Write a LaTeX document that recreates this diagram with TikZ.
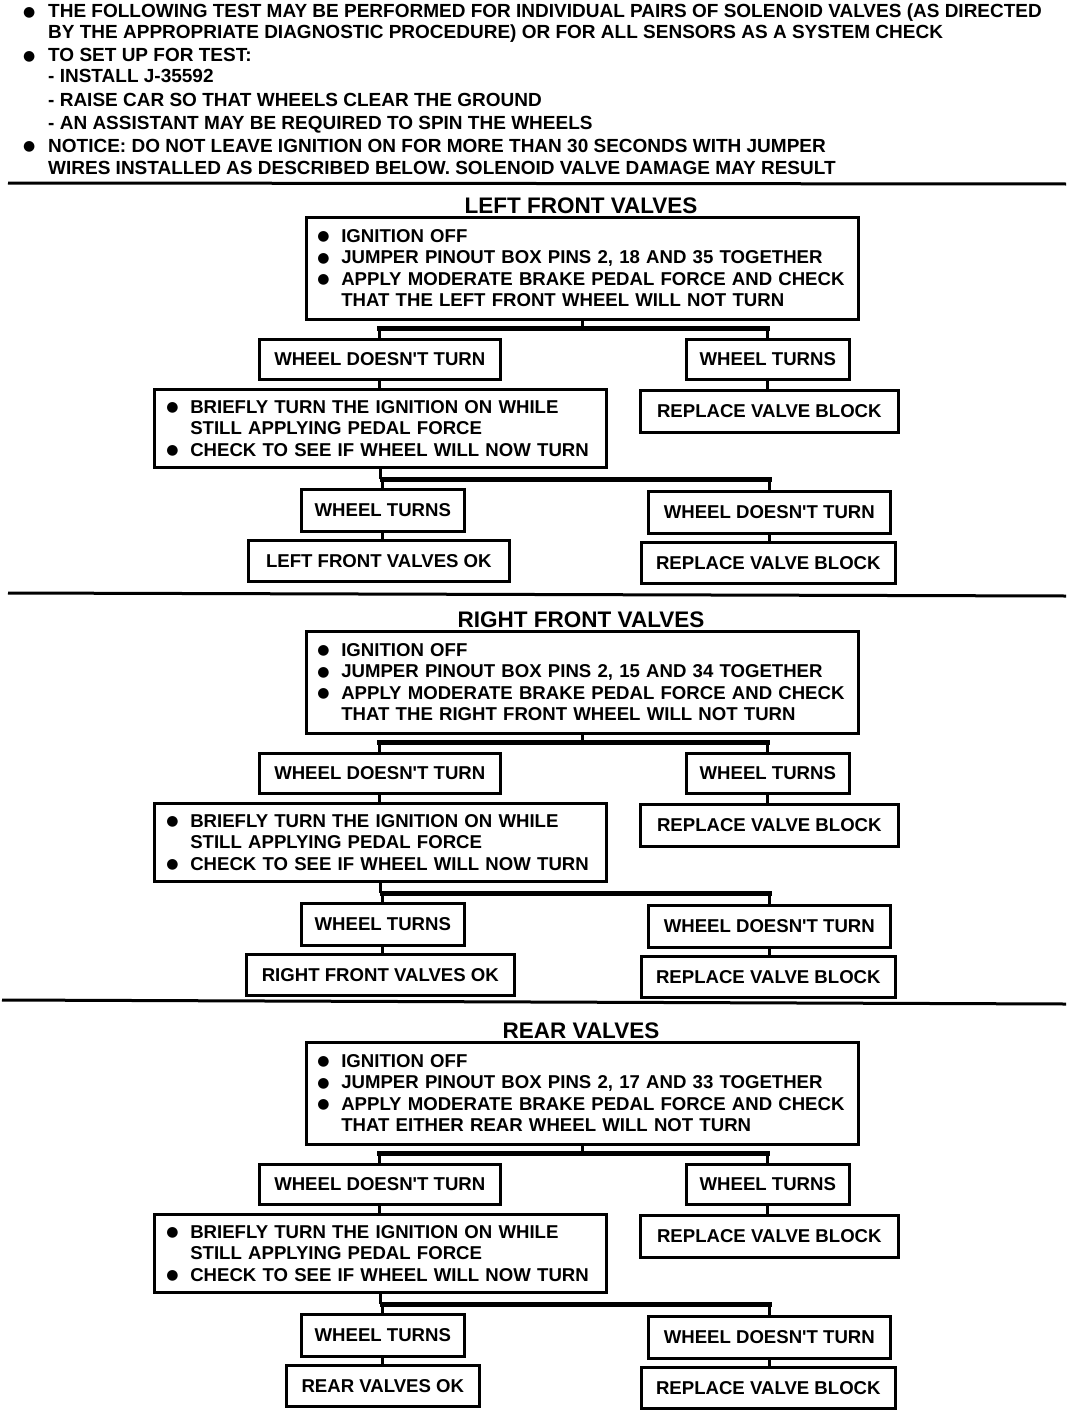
\documentclass[tikz,border=0pt]{standalone}
\usepackage{fontspec}
\setmainfont{Liberation Sans}
\newfontfamily\dejavu{DejaVu Sans}
\newcommand\blt{\smash{\raisebox{1.8pt}{\dejavu\fontsize{14}{14}\selectfont ●}}}
\newcommand\bl{\makebox[24pt][l]{\blt}}
\newcommand\txtf{\fontsize{19}{21.5}\selectfont\bfseries}
\newcommand\boxf{\fontsize{18.6}{21.5}\selectfont\bfseries}
\newcommand\dnt{DOESN\textquotesingle T}
\tikzset{
  box/.style={draw, line width=2.6pt, inner sep=0pt, font=\boxf},
  lbl/.style={box, align=center, anchor=north west},
  multi/.style={box, align=left, anchor=north west},
  txt/.style={inner sep=0pt, anchor=base west, font=\txtf},
  head/.style={inner sep=0pt, anchor=base, font=\fontsize{22.5}{25}\selectfont\bfseries},
  conn/.style={line width=3pt},
  barl/.style={line width=5pt, line cap=rect},
  sep/.style={line width=3pt}
}
% #1 id, #2 dy, #3 heading, #4 pins, #5 wheel phrase, #6 ok text, #7 ok x, #8 ok width
\newcommand\valvesec[8]{%
  \node[head] (#1h) at (581,213+#2) {#3};
  \node[multi, minimum width=552pt, minimum height=102pt, inner xsep=11pt, text width=530pt] (#1top) at (305,216+#2)
    {\mbox{\bl IGNITION OFF}\\ \mbox{\bl JUMPER PINOUT BOX PINS #4 TOGETHER}\\ \mbox{\bl APPLY MODERATE BRAKE PEDAL FORCE AND CHECK}\\ \mbox{\hspace*{24pt}THAT #5 WILL NOT TURN}};
  \node[lbl, minimum width=241pt, minimum height=40pt] (#1wdt) at (258,338+#2) {WHEEL \dnt\ TURN};
  \node[lbl, minimum width=163pt, minimum height=40pt] (#1wt) at (685,338+#2) {WHEEL TURNS};
  \node[multi, minimum width=452pt, minimum height=78pt, inner xsep=12pt, text width=428pt] (#1brief) at (153,388+#2)
    {\mbox{\bl BRIEFLY TURN THE IGNITION ON WHILE}\\ \mbox{\hspace*{24pt}STILL APPLYING PEDAL FORCE}\\ \mbox{\bl CHECK TO SEE IF WHEEL WILL NOW TURN}};
  \node[lbl, minimum width=258pt, minimum height=42pt] (#1rvb) at (639,389+#2) {REPLACE VALVE BLOCK};
  \node[lbl, minimum width=163pt, minimum height=42pt] (#1wt2) at (300,488+#2) {WHEEL TURNS};
  \node[lbl, minimum width=242pt, minimum height=42pt] (#1wdt2) at (647,490+#2) {WHEEL \dnt\ TURN};
  \node[lbl, minimum width=#8pt, minimum height=41pt] (#1ok) at (#7,539+#2) {#6};
  \node[lbl, minimum width=254pt, minimum height=41pt] (#1rvb2) at (640,541+#2) {REPLACE VALVE BLOCK};
  \coordinate (#1bar) at (581,328+#2);
  \draw[conn] (#1top.south) -- (#1top.south |- #1bar);
  \draw[barl] (#1wdt.north |- #1bar) -- (#1wt.north |- #1bar);
  \draw[conn] (#1wdt.north |- #1bar) -- (#1wdt.north);
  \draw[conn] (#1wt.north |- #1bar) -- (#1wt.north);
  \draw[conn] (#1wdt.south) -- (#1wdt.south |- #1brief.north);
  \draw[conn] (#1wt.south) -- (#1wt.south |- #1rvb.north);
  \coordinate (#1bar2) at (581,479+#2);
  \draw[conn] (#1brief.south) -- (#1brief.south |- #1bar2);
  \draw[barl] (#1wt2.north |- #1bar2) -- (#1wdt2.north |- #1bar2);
  \draw[conn] (#1wt2.north |- #1bar2) -- (#1wt2.north);
  \draw[conn] (#1wdt2.north |- #1bar2) -- (#1wdt2.north);
  \draw[conn] (#1wt2.south) -- (#1wt2.south |- #1ok.north);
  \draw[conn] (#1wdt2.south) -- (#1wdt2.south |- #1rvb2.north);
}
\begin{document}
\begin{tikzpicture}[x=1pt,y=-1pt]
\useasboundingbox[fill=white] (0,0) rectangle (1072,1418);
% header
\node[txt] (b1) at (23,18) {\blt};
\node[txt] (h1) at (48,18) {THE FOLLOWING TEST MAY BE PERFORMED FOR INDIVIDUAL PAIRS OF SOLENOID VALVES (AS DIRECTED};
\node[txt] (h2) at (48,39) {BY THE APPROPRIATE DIAGNOSTIC PROCEDURE) OR FOR ALL SENSORS AS A SYSTEM CHECK};
\node[txt] (b2) at (23,62) {\blt};
\node[txt] (h3) at (48,62) {TO SET UP FOR TEST:};
\node[txt] (h4) at (48,83) {- INSTALL J-35592};
\node[txt] (h5) at (48,107) {- RAISE CAR SO THAT WHEELS CLEAR THE GROUND};
\node[txt] (h6) at (48,129) {- AN ASSISTANT MAY BE REQUIRED TO SPIN THE WHEELS};
\node[txt] (b3) at (23,152) {\blt};
\node[txt] (h7) at (48,152) {NOTICE: DO NOT LEAVE IGNITION ON FOR MORE THAN 30 SECONDS WITH JUMPER};
\node[txt] (h8) at (48,174) {WIRES INSTALLED AS DESCRIBED BELOW. SOLENOID VALVE DAMAGE MAY RESULT};
\draw[sep] (8,183) -- (1066,184);
\valvesec{a}{0}{LEFT FRONT VALVES}{2, 18 AND 35}{THE LEFT FRONT WHEEL}{LEFT FRONT VALVES OK}{247}{261}
\draw[sep] (8,593) -- (1066,596);
\valvesec{b}{414}{RIGHT FRONT VALVES}{2, 15 AND 34}{THE RIGHT FRONT WHEEL}{RIGHT FRONT VALVES OK}{245}{268}
\draw[sep] (2,1000) -- (1066,1004);
\valvesec{c}{825}{REAR VALVES}{2, 17 AND 33}{EITHER REAR WHEEL}{REAR VALVES OK}{285}{193}
\end{tikzpicture}
\end{document}
